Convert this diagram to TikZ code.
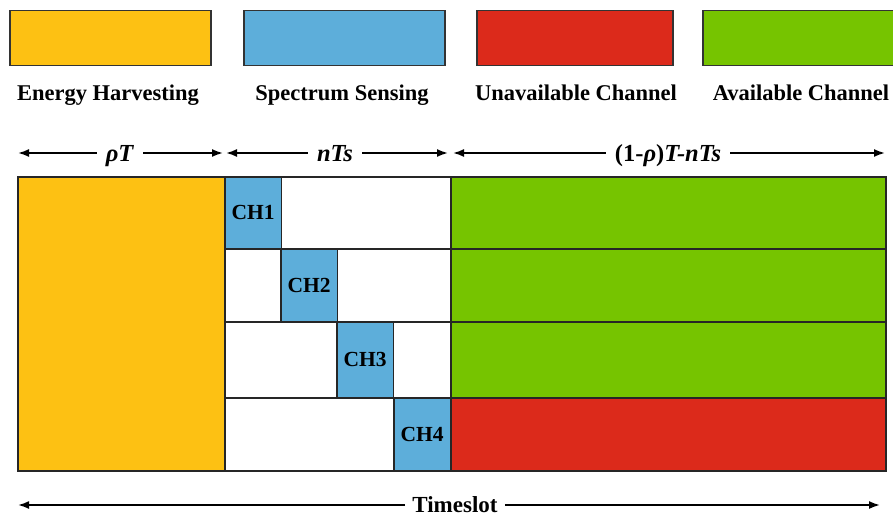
\documentclass[tikz,border=0pt]{standalone}
\usepackage{fontspec}
\setmainfont{Liberation Serif}
\usetikzlibrary{arrows.meta}

\definecolor{cEH}{HTML}{FDC113}
\definecolor{cSS}{HTML}{5DAEDA}
\definecolor{cUn}{HTML}{DC2A1B}
\definecolor{cAv}{HTML}{76C400}

\begin{document}
\begin{tikzpicture}[x=1pt,y=-1pt,
  every node/.style={font=\fontsize{21.5}{25}\selectfont\bfseries},
  swatch/.style={draw=black!80, line width=1.5pt, anchor=north west, inner sep=0pt},
  cell/.style={draw=black!85, line width=1.5pt, anchor=north west, inner sep=0pt},
  legendtext/.style={anchor=base, inner sep=0pt, font=\fontsize{22.5}{26}\selectfont\bfseries},
  spanlabel/.style={anchor=base, inner ysep=0pt, inner xsep=9pt, font=\fontsize{24.5}{28}\selectfont\bfseries},
  span/.style={-{Latex[length=11pt,width=8pt]}, line width=1.8pt}]
\useasboundingbox (0,0) rectangle (893,516);
\clip (0,0) rectangle (893,516);

% legend swatches and their captions
\node[swatch, fill=cEH, minimum width=201pt, minimum height=55pt] (swEH) at (9,10) {};
\node[swatch, fill=cSS, minimum width=201pt, minimum height=55pt] (swSS) at (243,10) {};
\node[swatch, fill=cUn, minimum width=196pt, minimum height=55pt] (swUn) at (476,10) {};
\node[swatch, fill=cAv, minimum width=200pt, minimum height=55pt] (swAv) at (702,10) {};
\node[legendtext] (tEH) at (108,101) {Energy Harvesting};
\node[legendtext] (tSS) at (342,101) {Spectrum Sensing};
\node[legendtext] (tUn) at (576,101) {Unavailable Channel};
\node[legendtext] (tAv) at (801,101) {Available Channel};

% duration markers above the slot
\coordinate (r1l) at (18,153);  \coordinate (r1r) at (223,153);
\coordinate (r2l) at (226,153); \coordinate (r2r) at (448,153);
\coordinate (r3l) at (453,153); \coordinate (r3r) at (885,153);
\node[spanlabel] (rho) at (120,161) {\textit{ρT}};
\node[spanlabel] (nts) at (335,161) {\textit{nTs}};
\node[spanlabel] (rest) at (668,161) {(1-\textit{ρ})\textit{T-nTs}};
\draw[span] (rho.west |- r1l) -- (r1l);
\draw[span] (rho.east |- r1r) -- (r1r);
\draw[span] (nts.west |- r2l) -- (r2l);
\draw[span] (nts.east |- r2r) -- (r2r);
\draw[span] (rest.west |- r3l) -- (r3l);
\draw[span] (rest.east |- r3r) -- (r3r);

% the time slot: harvesting, sequential sensing, transmission per channel
\node[cell, fill=cEH, minimum width=207pt, minimum height=294pt] (eh) at (17,176) {};
\foreach \i/\top/\h/\bx/\col in {1/176/72/224/cAv, 2/248/73/280/cAv, 3/321/76/336/cAv, 4/397/73/393/cUn} {
  \node[cell, fill=white, minimum width=226pt, minimum height=\h pt] (slot\i) at (224,\top) {};
  \node[cell, fill=cSS, minimum width=56.5pt, minimum height=\h pt] (ch\i) at (\bx,\top) {CH\i};
  \node[cell, fill=\col, minimum width=435pt, minimum height=\h pt] (tx\i) at (450,\top) {};
}

% whole time slot
\coordinate (tl) at (18,505);
\coordinate (tr) at (880,505);
\node[spanlabel, inner xsep=7pt, font=\fontsize{23}{27}\selectfont\bfseries] (ts) at (455,512) {Timeslot};
\draw[span] (ts.west |- tl) -- (tl);
\draw[span] (ts.east |- tr) -- (tr);
\end{tikzpicture}
\end{document}
